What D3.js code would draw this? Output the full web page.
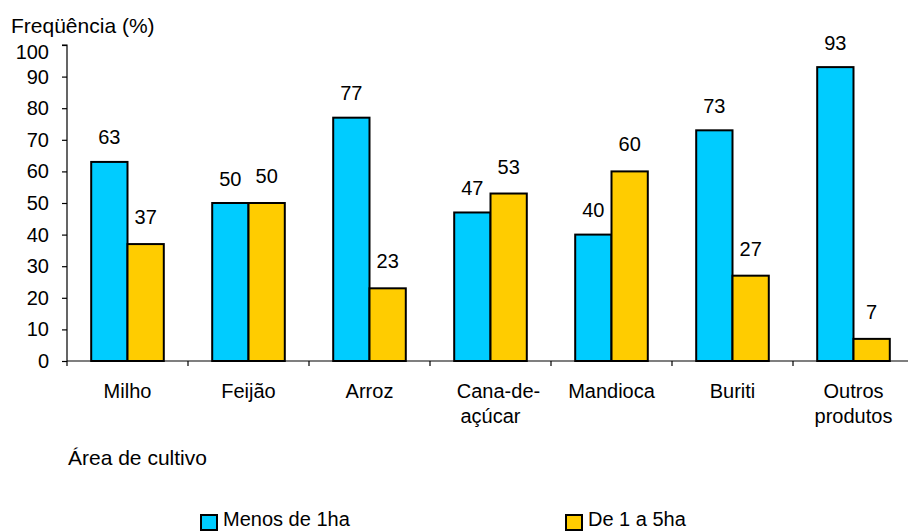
<!DOCTYPE html>
<html>
<head>
<meta charset="utf-8">
<script src="https://cdn.jsdelivr.net/npm/d3@7"></script>
<style>
  html, body { margin: 0; padding: 0; background: #fff; }
  svg { display: block; }
  text { font-family: "Liberation Sans", Arial, sans-serif; fill: #000; }
</style>
</head>
<body>
<svg id="chart" width="908" height="531"></svg>
<script>
const categories = [["Milho"], ["Feijão"], ["Arroz"], ["Cana-de-", "açúcar"], ["Mandioca"], ["Buriti"], ["Outros", "produtos"]];
const seriesNames = ["Menos de 1ha", "De 1 a 5ha"];
const menosDe1ha = [63, 50, 77, 47, 40, 73, 93];
const de1a5ha = [37, 50, 23, 53, 60, 27, 7];
const yTicks = [0, 10, 20, 30, 40, 50, 60, 70, 80, 90, 100];
const colors = ["#00CCFF", "#FFCC00"];

const svg = d3.select("#chart");
const x0 = 67, bw = 121;
const x = d3.scaleBand().domain(d3.range(categories.length)).range([x0, x0 + bw * categories.length]).padding(0);
const y = d3.scaleLinear().domain([0, 100]).range([361, 45]);
const barW = x.bandwidth() * 0.3;
const fs = 20;

// Y axis
const yAxis = d3.axisLeft(y).tickValues(yTicks).tickSize(5).tickPadding(13);
const gy = svg.append("g").attr("transform", `translate(${x0},0)`).call(yAxis);
gy.select(".domain").attr("d", `M-5,${y(100)}H0V${y(0)}`).attr("stroke", "#000").attr("stroke-width", 1.2);
gy.selectAll(".tick line").attr("stroke", "#000").attr("stroke-width", 1.2);
gy.selectAll(".tick text").attr("font-size", fs).attr("font-family", "Liberation Sans, Arial, sans-serif").attr("fill", "#000")
  .attr("dy", d => d === 100 ? "0.66em" : "0.32em");

// X axis line + boundary ticks
const gx = svg.append("g");
gx.append("line").attr("x1", x0).attr("x2", 908).attr("y1", y(0)).attr("y2", y(0)).attr("stroke", "#000").attr("stroke-width", 1.2);
gx.selectAll("line.tk").data(d3.range(categories.length + 1)).enter().append("line")
  .attr("class", "tk")
  .attr("x1", i => x0 + i * bw).attr("x2", i => x0 + i * bw)
  .attr("y1", y(0)).attr("y2", y(0) + 5)
  .attr("stroke", "#000").attr("stroke-width", 1.2);

// Category labels
categories.forEach((lines, i) => {
  const cx = x(i) + x.bandwidth() / 2;
  const t = svg.append("text").attr("text-anchor", "middle").attr("font-size", fs).attr("y", 398);
  lines.forEach((ln, j) => {
    const shift = (lines.length > 1 && j === 0 && ln.endsWith("-")) ? 8 : 0;
    t.append("tspan").attr("x", cx + shift).attr("y", 398 + j * 25).text(ln);
  });
});

// Bars
const series = [menosDe1ha, de1a5ha];
series.forEach((vals, s) => {
  const g = svg.append("g");
  g.selectAll("rect").data(vals).enter().append("rect")
    .attr("x", (d, i) => x(i) + x.bandwidth() / 2 - barW + s * barW)
    .attr("y", d => y(d))
    .attr("width", barW)
    .attr("height", d => y(0) - y(d))
    .attr("fill", colors[s])
    .attr("stroke", "#000")
    .attr("stroke-width", 2);
  g.selectAll("text").data(vals).enter().append("text")
    .attr("text-anchor", "middle")
    .attr("font-size", fs)
    .attr("x", (d, i) => x(i) + x.bandwidth() / 2 - barW / 2 + s * barW)
    .attr("y", d => y(d) - (s === 0 ? 17.5 : 20))
    .text(d => d);
});

// Titles
svg.append("text").attr("x", 11).attr("y", 33).attr("font-size", fs + 1).text("Freqüência (%)");
svg.append("text").attr("x", 68).attr("y", 465).attr("font-size", fs + 1).text("Área de cultivo");

// Legend
const legX = [201, 566];
seriesNames.forEach((name, s) => {
  svg.append("rect").attr("x", legX[s]).attr("y", 515).attr("width", 16).attr("height", 15)
    .attr("fill", colors[s]).attr("stroke", "#000").attr("stroke-width", 2);
  svg.append("text").attr("x", legX[s] + 22).attr("y", 526).attr("font-size", fs).text(name);
});
</script>
</body>
</html>
